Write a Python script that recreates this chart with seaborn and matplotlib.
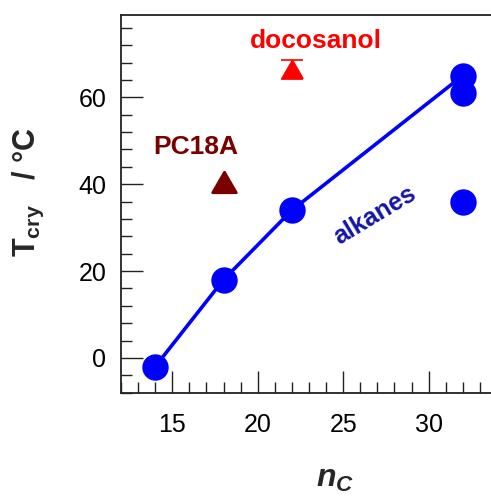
import matplotlib
matplotlib.use("Agg")
import matplotlib.pyplot as plt
import seaborn as sns
import pandas as pd
from matplotlib.path import Path
from matplotlib.ticker import MultipleLocator

# Crystallisation temperature vs. carbon number
alkane_nc = [14, 18, 22, 32, 32, 32]
alkane_tcry = [-2, 18, 34, 65, 61, 36]
trend_nc = [14, 18, 22, 32]
trend_tcry = [-2, 18, 34, 65]
pc18a_nc = [18]
pc18a_tcry = [40.6]
docosanol_nc = [22]
docosanol_tcry = [66.4]
docosanol_err = [2.2]

sns.set_style("ticks")
plt.rcParams["font.family"] = ["Liberation Sans", "DejaVu Sans"]
plt.rcParams["mathtext.fontset"] = "custom"
plt.rcParams["mathtext.rm"] = "Liberation Sans"
plt.rcParams["mathtext.bf"] = "Liberation Sans:bold"
plt.rcParams["mathtext.it"] = "Liberation Sans:italic"
plt.rcParams["mathtext.bfit"] = "Liberation Sans:bold:italic"

fig = plt.figure(figsize=(4.91, 4.97), dpi=100)
ax = fig.add_axes([0.2464, 0.2099, 0.7658, 0.7605])

tri = Path([(-1, -0.866), (1, -0.866), (0, 0.866), (-1, -0.866)],
           [Path.MOVETO, Path.LINETO, Path.LINETO, Path.CLOSEPOLY])

trend = pd.DataFrame({"nc": trend_nc, "tcry": trend_tcry})
alk = pd.DataFrame({"nc": alkane_nc, "tcry": alkane_tcry})
sns.lineplot(data=trend, x="nc", y="tcry", ax=ax, color="#0000ff",
             linewidth=2.6, sort=False, zorder=2)
sns.scatterplot(data=alk, x="nc", y="tcry", ax=ax, color="#0000ff",
                s=19 ** 2, linewidth=0, zorder=3)

ax.plot(pc18a_nc, pc18a_tcry, linestyle="none", marker=tri, markersize=17,
        color="#7a0000", markeredgewidth=2, markeredgecolor="#7a0000",
        zorder=3)
ax.errorbar(docosanol_nc, docosanol_tcry, yerr=docosanol_err, fmt="none",
            ecolor="#ff0000", elinewidth=1.2, capsize=7.8, capthick=1.2,
            zorder=3)
ax.plot(docosanol_nc, docosanol_tcry, linestyle="none", marker=tri,
        markersize=14.5, color="#ff0000", markeredgewidth=1.5,
        markeredgecolor="#ff0000", zorder=4)

ax.text(23.4, 73.0, "docosanol", color="#ff0000", fontsize=19,
        fontweight="bold", ha="center", va="center")
ax.text(16.4, 48.6, "PC18A", color="#7a0000", fontsize=19,
        fontweight="bold", ha="center", va="center")
ax.text(26.85, 32.8, "alkanes", color="#1414a8", fontsize=18,
        fontweight="bold", ha="center", va="center", rotation=31)

ax.set_xlim(12, 34)
ax.set_ylim(-8, 79)
ax.xaxis.set_major_locator(MultipleLocator(5))
ax.xaxis.set_minor_locator(MultipleLocator(1))
ax.yaxis.set_major_locator(MultipleLocator(20))
ax.yaxis.set_minor_locator(MultipleLocator(4))

ax.tick_params(which="both", direction="in", colors="#222222",
               labelcolor="black", labelsize=18, width=1.0,
               top=False, right=False)
ax.tick_params(which="major", length=15.8)
ax.tick_params(which="minor", length=7.9)
ax.tick_params(axis="x", which="major", pad=14.5)
ax.tick_params(axis="y", which="major", pad=10.5)

for side in ["left", "top", "bottom"]:
    ax.spines[side].set_visible(True)
    ax.spines[side].set_linewidth(1.3)
    ax.spines[side].set_color("#222222")
ax.spines["right"].set_visible(False)

ax.set_xlabel(r"$\mathbfit{n}_{\mathbfit{C}}$", fontsize=23)
ax.set_ylabel(r"$\mathbf{T}_{\mathbf{cry}}$   / °C", fontsize=22,
              fontweight="bold")
ax.xaxis.set_label_coords(0.569, -0.19)
ax.yaxis.set_label_coords(-0.20, 0.531)

fig.savefig("out.png", dpi=100)
